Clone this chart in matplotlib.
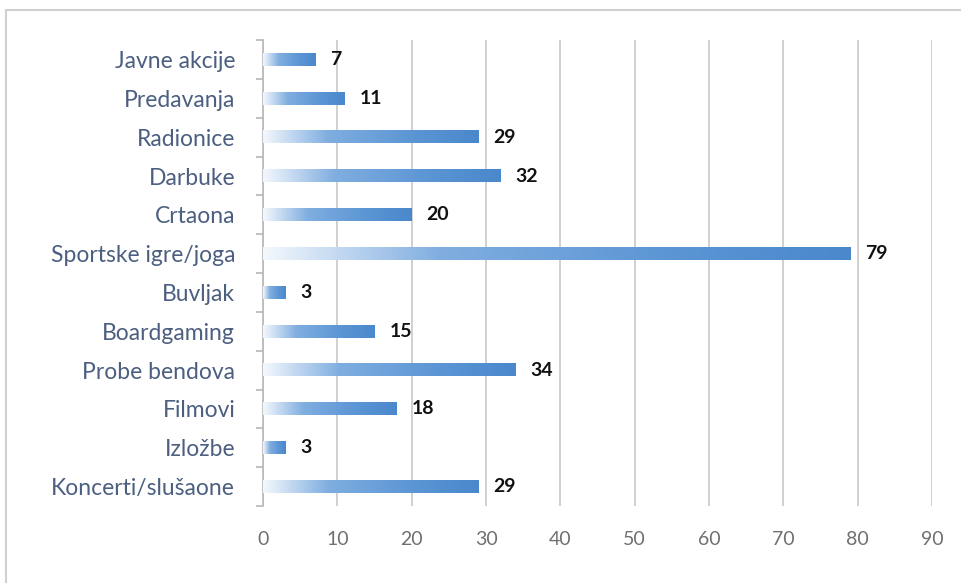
import numpy as np
import matplotlib.pyplot as plt
from matplotlib.colors import LinearSegmentedColormap
from matplotlib.patches import Rectangle

categories = ["Koncerti/slušaone", "Izložbe", "Filmovi", "Probe bendova", "Boardgaming",
              "Buvljak", "Sportske igre/joga", "Crtaona", "Darbuke", "Radionice",
              "Predavanja", "Javne akcije"]
values = [29, 3, 18, 34, 15, 3, 79, 20, 32, 29, 11, 7]

plt.rcParams['font.family'] = ['Lato', 'DejaVu Sans']

fig = plt.figure(figsize=(9.61, 5.83), dpi=100)
ax = fig.add_axes([0.2737, 0.132, 0.6961, 0.799])

# outer frame of the chart area
fig.patches.append(Rectangle((0.006, -0.01), 1.0, 0.993, transform=fig.transFigure,
                             fill=False, edgecolor='#d0d0d0', linewidth=1.5))

cmap = LinearSegmentedColormap.from_list(
    "bar", [(0, "#f4f8fd"), (0.3, "#80aee0"), (0.7, "#5b95d4"), (1, "#4a88cc")])
grad = np.linspace(0, 1, 256).reshape(1, -1)
h = 0.32
for i, v in enumerate(values):
    ax.imshow(grad, cmap=cmap, aspect='auto', extent=(0, v, i - h / 2, i + h / 2),
              interpolation='bilinear', zorder=3)
    ax.text(v + 2.0, i, str(v), va='center', ha='left', fontsize=14,
            fontweight='bold', color='#111111', zorder=4)

ax.set_xlim(0, 90)
ax.set_ylim(-0.5, len(values) - 0.5)
ax.set_xticks(np.arange(0, 91, 10))
ax.set_yticks(range(len(categories)))
ax.set_yticklabels(categories)
ax.set_yticks(np.arange(-0.5, len(values), 1), minor=True)

ax.grid(axis='x', color='#c8c8c8', linewidth=1.2, zorder=0)
ax.set_axisbelow(True)
for s in ['top', 'right', 'bottom']:
    ax.spines[s].set_visible(False)
ax.spines['left'].set_color('#b8b8b8')
ax.spines['left'].set_linewidth(1.2)

ax.tick_params(axis='y', which='major', length=0, pad=20, labelsize=16.5, labelcolor='#4c5f80')
ax.tick_params(axis='y', which='minor', length=5, color='#b8b8b8', width=1.2)
ax.tick_params(axis='x', length=0, pad=18, labelsize=14, labelcolor='#707070')

fig.savefig("out.png", dpi=100)
